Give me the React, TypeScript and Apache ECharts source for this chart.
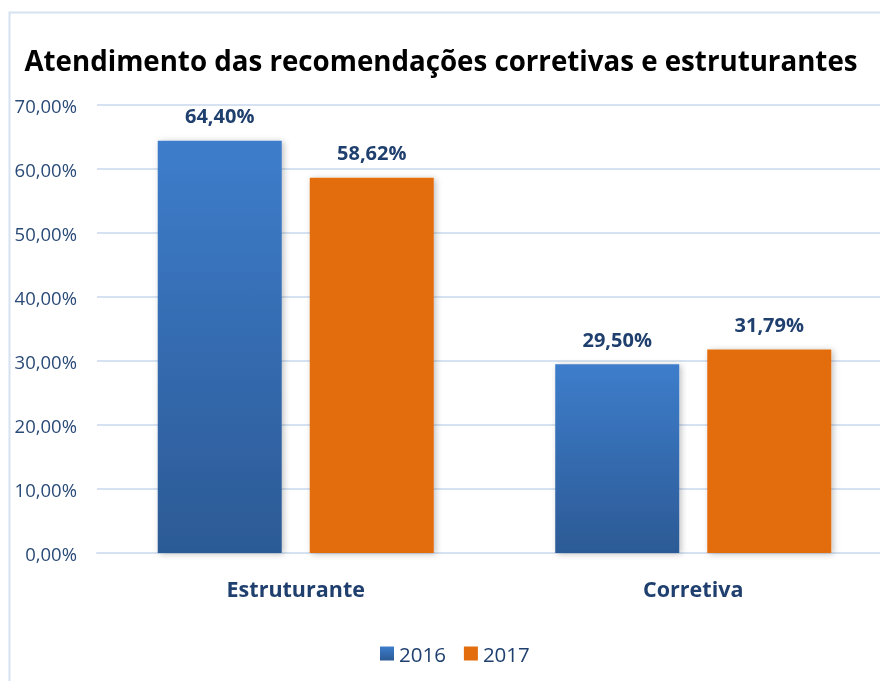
import React, { useEffect, useRef } from "react";
import * as echarts from "echarts";

const categories = ["Estruturante", "Corretiva"];
const seriesNames = ["2016", "2017"];
const values2016 = [64.4, 29.5];
const values2017 = [58.62, 31.79];
const yTicks = [0, 10, 20, 30, 40, 50, 60, 70];

const fmt = (v: number) => v.toFixed(2).replace(".", ",") + "%";
const FONT = "'Open Sans', 'Noto Sans', sans-serif";

export default function App() {
  const ref = useRef<HTMLDivElement>(null);
  useEffect(() => {
    const chart = echarts.init(ref.current!, null, { renderer: "svg" });
    const blue = new echarts.graphic.LinearGradient(0, 0, 0, 1, [
      { offset: 0, color: "#3d7dcb" },
      { offset: 1, color: "#2c5a95" },
    ]);
    const orange = "#e36c0c";
    const labelCfg = {
      show: true,
      position: "top",
      distance: 15,
      formatter: (p: any) => fmt(p.value),
      color: "#1f3f6e",
      fontWeight: "bold",
      fontSize: 20,
      fontFamily: FONT,
    };
    const shadow = {
      shadowColor: "rgba(0,0,0,0.25)",
      shadowBlur: 6,
      shadowOffsetX: 2,
      shadowOffsetY: 1,
    };
    chart.setOption({
      animation: false,
      graphic: [
        {
          type: "rect",
          shape: { x: 9.5, y: 12.5, width: 900, height: 700 },
          style: { fill: "none", stroke: "#d6e2f1", lineWidth: 2 },
          silent: true,
        },
      ],
      title: {
        text: "Atendimento das recomendações corretivas e estruturantes",
        left: 436,
        textAlign: "center",
        top: 41,
        textStyle: {
          fontFamily: FONT,
          fontWeight: "bold",
          fontSize: 27.7,
          color: "#000000",
        },
      },
      legend: {
        data: seriesNames,
        left: 375,
        top: 638,
        itemWidth: 14,
        itemHeight: 14,
        itemGap: 18,
        icon: "rect",
        textStyle: { fontFamily: FONT, fontSize: 20.5, color: "#1f3f6e" },
      },
      grid: {
        left: 97,
        width: 795,
        top: 105,
        bottom: 128,
        containLabel: false,
        outerBoundsMode: "none",
      },
      xAxis: {
        type: "category",
        data: categories,
        axisLine: { show: true, lineStyle: { color: "#d6e2f1", width: 2 } },
        axisTick: { show: false },
        axisLabel: {
          margin: 24,
          fontFamily: FONT,
          fontWeight: "bold",
          fontSize: 21.5,
          color: "#1f3f6e",
        },
      },
      yAxis: {
        type: "value",
        min: 0,
        max: 70,
        interval: 10,
        axisLine: { show: false },
        axisTick: { show: false },
        splitLine: { lineStyle: { color: "#d6e2f1", width: 2 } },
        axisLabel: {
          margin: 20,
          fontFamily: FONT,
          fontSize: 18.5,
          color: "#2a4a78",
          formatter: (v: number) => (yTicks.includes(v) ? fmt(v) : ""),
        },
      },
      series: [
        {
          name: seriesNames[0],
          type: "bar",
          data: values2016,
          barWidth: 124,
          barGap: "22.6%",
          itemStyle: { color: blue, ...shadow },
          label: labelCfg,
        },
        {
          name: seriesNames[1],
          type: "bar",
          data: values2017,
          barWidth: 124,
          barGap: "22.6%",
          itemStyle: { color: orange, ...shadow },
          label: labelCfg,
        },
      ],
    });
    return () => chart.dispose();
  }, []);
  return (
    <div
      ref={ref}
      style={{ width: 880, height: 681, position: "fixed", left: 0, top: 0 }}
    />
  );
}
